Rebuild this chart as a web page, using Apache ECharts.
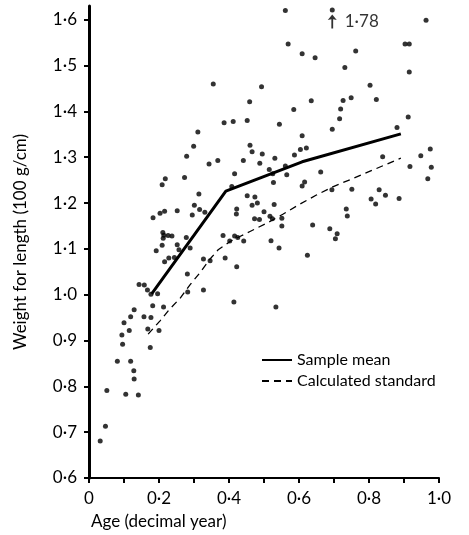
<!DOCTYPE html>
<html>
<head>
<meta charset="utf-8">
<script src="https://cdn.jsdelivr.net/npm/echarts@6/dist/echarts.min.js"></script>
<style>
html,body{margin:0;padding:0;background:#fff;}
#chart{width:469px;height:535px;}
</style>
</head>
<body>
<div id="chart"></div>
<script>
// ---- Data ----
var ageValues = [
0.032,0.047,0.051,0.081,0.105,0.141,0.129,0.128,0.119,0.096,
0.094,0.100,0.115,0.119,0.129,0.157,0.177,0.168,0.200,0.175,
0.182,0.213,0.143,0.158,0.167,0.177,0.196,0.282,0.327,0.281,
0.216,0.228,0.244,0.192,0.209,0.252,0.257,0.289,0.211,0.214,
0.226,0.237,0.212,0.278,0.327,0.346,0.389,0.422,0.414,0.534,
0.183,0.203,0.216,0.252,0.295,0.301,0.316,0.331,0.314,0.218,
0.209,0.273,0.416,0.408,0.452,0.422,0.421,0.383,0.402,0.416,
0.425,0.442,0.279,0.299,0.311,0.343,0.368,0.355,0.386,0.412,
0.452,0.441,0.459,0.460,0.466,0.488,0.493,0.561,0.569,0.609,
0.646,0.731,0.762,0.635,0.585,0.544,0.609,0.695,0.726,0.749,
0.719,0.716,0.803,0.821,0.963,0.903,0.915,0.915,0.912,0.880,
0.495,0.531,0.587,0.604,0.621,0.515,0.561,0.525,0.565,0.527,
0.662,0.616,0.609,0.694,0.474,0.481,0.466,0.529,0.500,0.473,
0.487,0.517,0.524,0.551,0.551,0.639,0.735,0.738,0.688,0.709,
0.704,0.520,0.543,0.624,0.975,0.948,0.839,0.917,0.978,0.968,
0.751,0.829,0.847,0.806,0.819,0.886,0.695
];
var weightValues = [
0.681,0.713,0.791,0.855,0.783,0.781,0.816,0.834,0.855,0.892,
0.912,0.939,0.922,0.952,0.967,0.952,0.950,0.925,0.922,0.885,
0.976,0.973,1.022,1.021,1.010,1.001,1.002,1.006,1.010,1.045,
1.072,1.080,1.081,1.096,1.108,1.109,1.098,1.102,1.136,1.130,
1.129,1.128,1.123,1.125,1.078,1.074,1.080,1.061,0.984,0.973,
1.168,1.178,1.182,1.183,1.174,1.195,1.186,1.180,1.220,1.253,
1.240,1.256,1.264,1.236,1.216,1.187,1.176,1.129,1.117,1.128,
1.125,1.117,1.302,1.324,1.355,1.285,1.293,1.460,1.375,1.378,
1.380,1.293,1.421,1.326,1.312,1.287,1.454,1.620,1.547,1.526,
1.517,1.496,1.532,1.423,1.404,1.372,1.347,1.361,1.424,1.430,
1.405,1.384,1.457,1.426,1.599,1.547,1.547,1.486,1.388,1.365,
1.307,1.298,1.305,1.317,1.320,1.273,1.281,1.264,1.262,1.245,
1.268,1.246,1.237,1.229,1.213,1.200,1.195,1.197,1.181,1.166,
1.164,1.171,1.166,1.167,1.150,1.152,1.187,1.172,1.144,1.133,
1.122,1.118,1.102,1.086,1.318,1.303,1.301,1.280,1.278,1.253,
1.230,1.229,1.217,1.209,1.198,1.210,1.621
];
var meanAge = [0.179, 0.391, 0.609, 0.891];
var meanWeight = [1.002, 1.226, 1.290, 1.351];
var stdAge = [0.169,0.203,0.231,0.260,0.289,0.317,0.346,0.369,0.403,0.431,0.460,0.508,0.555,0.603,0.651,0.698,0.746,0.817,0.891];
var stdWeight = [0.914,0.943,0.969,0.992,1.022,1.048,1.078,1.098,1.116,1.127,1.138,1.156,1.176,1.198,1.218,1.236,1.251,1.274,1.298];
var offscaleAge = [0.695];
var offscaleMark = [1.596];
var offscaleLabel = ['1·78'];
var xTickValues = [0,0.1,0.2,0.3,0.4,0.5,0.6,0.7,0.8,0.9,1.0];
var xLabelValues = [0,0.2,0.4,0.6,0.8,1.0];
var xLabelTexts = ['0','0·2','0·4','0·6','0·8','1·0'];
var yTickValues = [0.6,0.7,0.8,0.9,1.0,1.1,1.2,1.3,1.4,1.5,1.6];
var yLabelTexts = ['0·6','0·7','0·8','0·9','1·0','1·1','1·2','1·3','1·4','1·5','1·6'];
var seriesNames = ['Sample mean', 'Calculated standard'];
var xTitle = 'Age (decimal year)';
var yTitle = 'Weight for length (100 g/cm)';

function zip(a, b) { return a.map(function (v, i) { return [v, b[i]]; }); }
function labelFor(values, texts, v) {
  for (var i = 0; i < values.length; i++) if (Math.abs(values[i] - v) < 1e-6) return texts[i];
  return '';
}

var FONT = 'Lato';
var chart = echarts.init(document.getElementById('chart'), null, {renderer: 'canvas'});
chart.setOption({
  animation: false,
  backgroundColor: '#fff',
  textStyle: {fontFamily: FONT, color: '#000'},
  title: {
    text: xTitle, left: 86, top: 508,
    textStyle: {fontFamily: FONT, fontSize: 17, fontWeight: 'normal', color: '#000'}
  },
  grid: {left: 89, right: 30, top: 6, bottom: 57, containLabel: false},
  legend: {
    orient: 'vertical', left: 256, top: 347,
    itemWidth: 30, itemHeight: 14, itemGap: 5,
    data: seriesNames,
    itemStyle: {opacity: 0},
    textStyle: {fontFamily: FONT, fontSize: 16, color: '#000'}
  },
  xAxis: {
    type: 'value', min: 0, max: 1,
    axisLine: {show: true, lineStyle: {color: '#000', width: 2}},
    axisTick: {show: true, customValues: xTickValues, length: 5, lineStyle: {color: '#000', width: 2}},
    axisLabel: {
      customValues: xLabelValues, margin: 12,
      fontFamily: FONT, fontSize: 17, color: '#000',
      formatter: function (v) { return labelFor(xLabelValues, xLabelTexts, v); }
    },
    splitLine: {show: false}
  },
  yAxis: {
    type: 'value', min: 0.6, max: 1.63,
    name: yTitle, nameLocation: 'middle', nameGap: 60, nameRotate: 90,
    nameTextStyle: {fontFamily: FONT, fontSize: 17, color: '#000'},
    axisLine: {show: true, lineStyle: {color: '#000', width: 3}},
    axisTick: {show: true, customValues: yTickValues, length: 5, lineStyle: {color: '#000', width: 2}},
    axisLabel: {
      customValues: yTickValues, margin: 12,
      fontFamily: FONT, fontSize: 17, color: '#000',
      formatter: function (v) { return labelFor(yTickValues, yLabelTexts, v); }
    },
    splitLine: {show: false}
  },
  series: [
    {
      name: 'points', type: 'scatter', data: zip(ageValues, weightValues),
      symbol: 'circle', symbolSize: 5,
      itemStyle: {color: '#000'}, z: 3
    },
    {
      name: seriesNames[0], type: 'line', data: zip(meanAge, meanWeight),
      symbol: 'none', lineStyle: {color: '#000', width: 3, type: 'solid'},
      itemStyle: {color: '#000'}, z: 4
    },
    {
      name: seriesNames[1], type: 'line', data: zip(stdAge, stdWeight),
      symbol: 'none', smooth: false,
      lineStyle: {color: '#000', width: 1.3, type: [7, 5]},
      itemStyle: {color: '#000'}, z: 4
    },
    {
      name: 'offscale', type: 'scatter', data: zip(offscaleAge, offscaleMark),
      symbol: 'path://M5,0 L10,7 L6,6 L6,18 L4,18 L4,6 L0,7 Z', symbolSize: [9, 14],
      itemStyle: {color: '#000'},
      label: {
        show: true, position: 'right', distance: 8,
        fontFamily: FONT, fontSize: 17, color: '#000',
        formatter: function (p) { return offscaleLabel[p.dataIndex]; }
      }
    }
  ]
});
</script>
</body>
</html>
